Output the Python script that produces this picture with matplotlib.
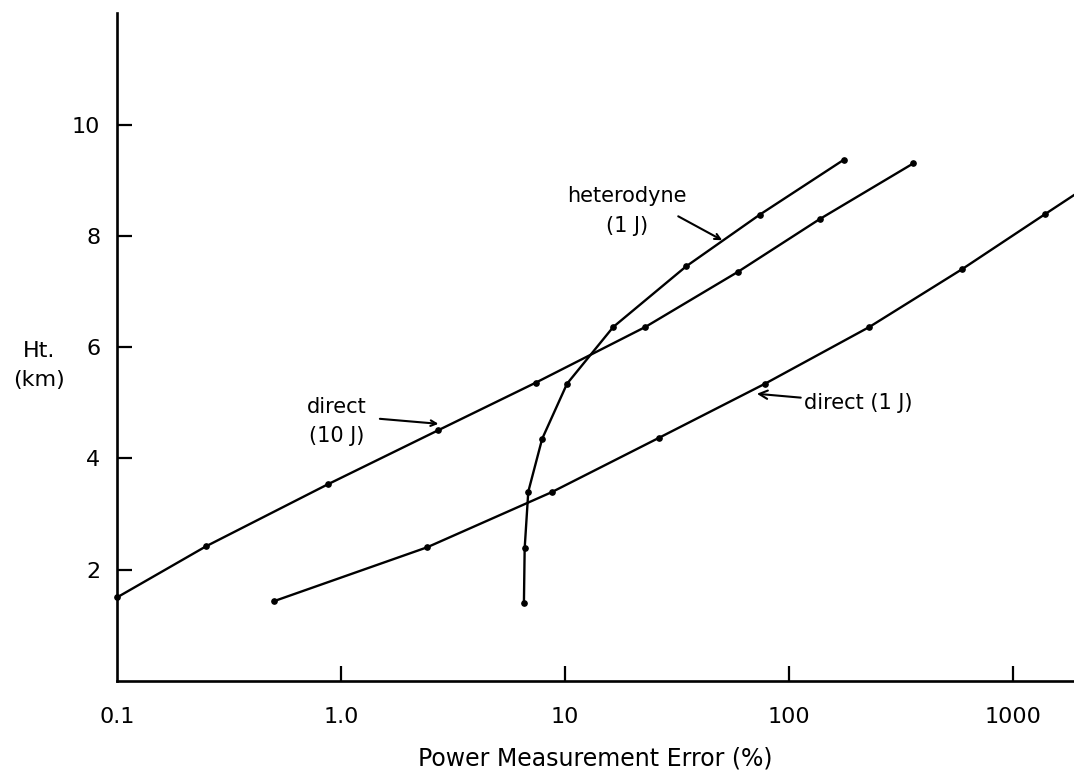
import numpy as np
import matplotlib.pyplot as plt

plt.rcParams['font.family'] = ['DejaVu Sans']

# height (km) vs. power measurement error (%)
ht_direct_10j = [1.50, 2.42, 3.53, 4.50, 5.36, 6.36, 7.35, 8.30, 9.30]
err_direct_10j = [0.10, 0.25, 0.87, 2.7, 7.4, 22.8, 59, 137, 358]

ht_heterodyne = [1.40, 2.38, 3.40, 4.35, 5.34, 6.36, 7.45, 8.38, 9.37]
err_heterodyne = [6.55, 6.6, 6.85, 7.9, 10.2, 16.4, 34.7, 74, 176]

ht_direct_1j = [1.43, 2.40, 3.39, 4.37, 5.34, 6.36, 7.40, 8.39]
err_direct_1j = [0.50, 2.42, 8.7, 26.3, 78, 228, 592, 1390]
# line runs on past the last computed point to the frame edge
ht_direct_1j_tail = [8.39, 8.75]
err_direct_1j_tail = [1390, 1900]

xticks = [1.0, 10, 100, 1000]
xtick_labels = ['0.1', '1.0', '10', '100', '1000']
yticks = [2, 4, 6, 8, 10]

fig = plt.figure(figsize=(10.74, 7.79), dpi=100)
ax = fig.add_axes([0.109, 0.126, 0.891, 0.857])

line_kw = dict(color='black', lw=1.7, marker='o', ms=3.8)
ax.plot(err_direct_10j, ht_direct_10j, clip_on=False, **line_kw)
ax.plot(err_heterodyne, ht_heterodyne, **line_kw)
ax.plot(err_direct_1j, ht_direct_1j, **line_kw)
ax.plot(err_direct_1j_tail, ht_direct_1j_tail, color='black', lw=1.7)

ax.set_xscale('log')
ax.set_xlim(0.1, 1870)
ax.set_ylim(0, 12)

ax.set_xticks(xticks)
ax.set_xticklabels(xtick_labels[1:])
ax.xaxis.set_minor_locator(plt.NullLocator())
ax.set_yticks(yticks)
ax.tick_params(direction='in', length=11, width=1.6, labelsize=16)
ax.tick_params(axis='x', pad=19)
ax.tick_params(axis='y', pad=12)
# 0.1 sits at the corner, no tick mark there
ax.annotate(xtick_labels[0], xy=(0.1, 0), xycoords=('data', 'axes fraction'),
            xytext=(0, -19), textcoords='offset points',
            ha='center', va='top', fontsize=16)

for side in ['top', 'right']:
    ax.spines[side].set_visible(False)
for side in ['left', 'bottom']:
    ax.spines[side].set_linewidth(1.9)

ax.set_xlabel('Power Measurement Error (%)', fontsize=17, labelpad=14)
fig.text(0.036, 0.531, 'Ht.\n(km)', ha='center', va='center', fontsize=16,
         linespacing=1.6)

arrow = dict(arrowstyle='->', color='black', lw=1.5, shrinkA=0, shrinkB=0)

ax.text(18.9, 8.44, 'heterodyne\n(1 J)', ha='center', va='center',
        fontsize=15, linespacing=1.6)
ax.annotate('', xy=(50.3, 7.92), xytext=(32.0, 8.35), arrowprops=arrow)

ax.text(0.96, 4.66, 'direct\n(10 J)', ha='center', va='center', fontsize=15,
        linespacing=1.6)
ax.annotate('', xy=(2.72, 4.62), xytext=(1.49, 4.71), arrowprops=arrow)

ax.annotate('direct (1 J)', xy=(71.8, 5.16), xytext=(116, 5.0),
            ha='left', va='center', fontsize=15, arrowprops=arrow)

fig.savefig('out.png', dpi=100)
